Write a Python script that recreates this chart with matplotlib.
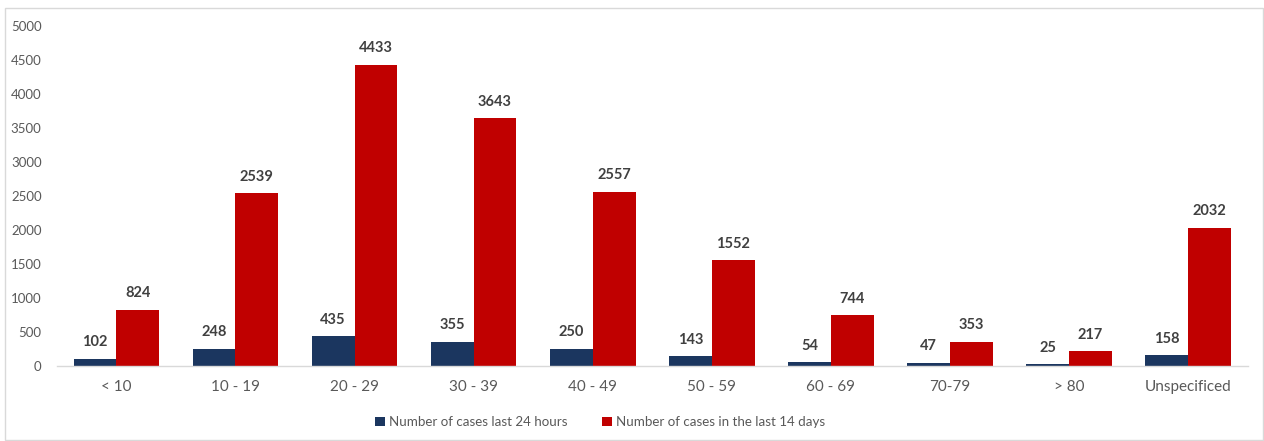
import matplotlib
matplotlib.use("Agg")
import matplotlib.pyplot as plt
import numpy as np
from matplotlib.patches import Rectangle

categories = ["< 10", "10 - 19", "20 - 29", "30 - 39", "40 - 49", "50 - 59", "60 - 69", "70-79", "> 80", "Unspecificed"]
last_24h = [102, 248, 435, 355, 250, 143, 54, 47, 25, 158]
last_14d = [824, 2539, 4433, 3643, 2557, 1552, 744, 353, 217, 2032]
series_names = ["Number of cases last 24 hours", "Number of cases in the last 14 days"]
yticks = [0, 500, 1000, 1500, 2000, 2500, 3000, 3500, 4000, 4500, 5000]

plt.rcParams['font.family'] = ['Lato', 'DejaVu Sans']

fig = plt.figure(figsize=(12.64, 4.41), dpi=100)
ax = fig.add_axes([0.045, 0.170, 0.942, 0.771])

x = np.arange(len(categories))
w = 0.36
blue = "#1B365F"
red = "#C00000"
b1 = ax.bar(x - w/2, last_24h, w, color=blue, label=series_names[0])
b2 = ax.bar(x + w/2, last_14d, w, color=red, label=series_names[1])

for bars, vals in ((b1, last_24h), (b2, last_14d)):
    for r, v in zip(bars, vals):
        ax.annotate(str(v), (r.get_x() + r.get_width()/2, v), xytext=(0, 7),
                    textcoords="offset points", ha="center", va="bottom",
                    fontsize=10.5, fontweight="bold", color="#404040")

ax.set_xlim(-0.5, len(categories) - 0.5)
ax.set_ylim(0, 5000)
ax.set_yticks(yticks)
ax.set_yticklabels([str(t) for t in yticks], fontsize=9.5, color="#595959")
ax.set_xticks(x)
ax.set_xticklabels(categories, fontsize=11, color="#595959")
ax.tick_params(axis="both", length=0)
ax.tick_params(axis="x", pad=10)
ax.tick_params(axis="y", pad=11)
for s in ("top", "right", "left"):
    ax.spines[s].set_visible(False)
ax.spines["bottom"].set_color("#D9D9D9")
ax.spines["bottom"].set_linewidth(1)

leg = fig.legend(handles=[b1, b2], loc="center", bbox_to_anchor=(0.475, 0.043), ncol=2,
                 frameon=False, fontsize=9.6, handlelength=0.75, handleheight=0.75,
                 handletextpad=0.3, columnspacing=2.6)
for t in leg.get_texts():
    t.set_color("#595959")

fig.patches.append(Rectangle((5/1264, 1/441), 1258/1264, 432/441, transform=fig.transFigure,
                             fill=False, edgecolor="#D9D9D9", linewidth=1))

fig.savefig("out.png", dpi=100)
